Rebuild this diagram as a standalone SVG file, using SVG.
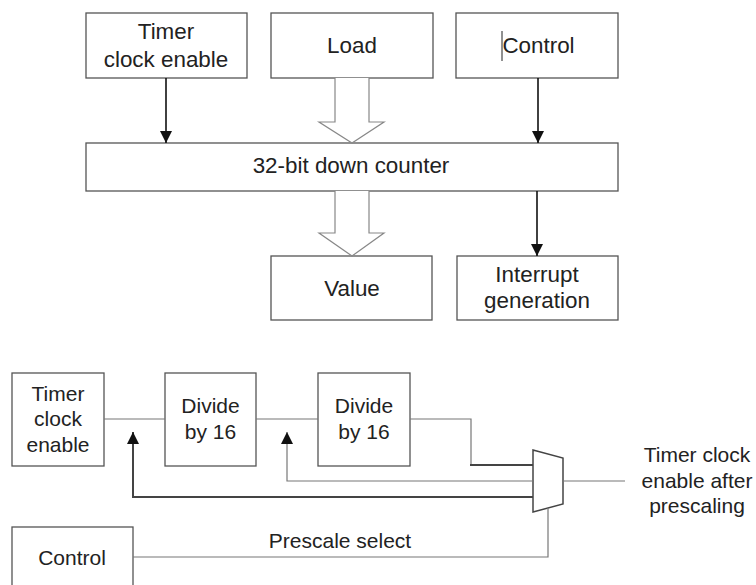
<svg xmlns="http://www.w3.org/2000/svg" width="756" height="585" viewBox="0 0 756 585">
<defs>
<style>
.box{fill:#fff;stroke:#555;stroke-width:1.3}
.t{font-family:"Liberation Sans",Arial,sans-serif;font-size:22.4px;fill:#222;text-anchor:middle}
.s{font-size:21px}
.ar{stroke:#111;stroke-width:1.6;fill:none}
.hol{fill:#fff;stroke:#888;stroke-width:1.2}
.thin{stroke:#777;stroke-width:1.2;fill:none}
.thick{stroke:#444;stroke-width:2;fill:none}
</style>
<marker id="ah" markerWidth="12" markerHeight="12" viewBox="0 0 12 12" refX="12" refY="6" orient="auto" markerUnits="userSpaceOnUse">
<path d="M0,0 L12,6 L0,12 Z" fill="#111"/>
</marker>
</defs>
<rect width="756" height="585" fill="#fff"/>

<g id="timer-top">
<rect class="box" x="86" y="13" width="161" height="65"/>
<text class="t" x="166" y="39">Timer</text>
<text class="t" x="166" y="67">clock enable</text>
</g>
<g id="load">
<rect class="box" x="271" y="13" width="162" height="65"/>
<text class="t" x="352" y="53">Load</text>
</g>
<g id="control-top">
<rect class="box" x="456" y="13" width="162" height="65"/>
<text class="t" x="538.5" y="53">Control</text>
<line x1="502" y1="31" x2="502" y2="61" stroke="#222" stroke-width="1"/>
</g>
<g id="counter">
<rect class="box" x="86" y="143" width="532" height="48"/>
<text class="t" x="351" y="173">32-bit down counter</text>
</g>
<g id="value">
<rect class="box" x="271" y="256" width="161" height="64"/>
<text class="t" x="352" y="296">Value</text>
</g>
<g id="interrupt">
<rect class="box" x="457" y="256" width="161" height="64"/>
<text class="t" x="537" y="282">Interrupt</text>
<text class="t" x="537" y="308">generation</text>
</g>

<g id="timer-bot">
<rect class="box" x="12" y="373" width="92" height="93"/>
<text class="t s" x="58" y="401">Timer</text>
<text class="t s" x="58" y="426">clock</text>
<text class="t s" x="58" y="452">enable</text>
</g>
<g id="div1">
<rect class="box" x="165" y="373" width="91" height="93"/>
<text class="t s" x="210.5" y="413">Divide</text>
<text class="t s" x="210.5" y="439">by 16</text>
</g>
<g id="div2">
<rect class="box" x="318" y="373" width="92" height="93"/>
<text class="t s" x="364" y="413">Divide</text>
<text class="t s" x="364" y="439">by 16</text>
</g>
<g id="mux">
<path d="M533,450 L563,458 L563,504 L533,512 Z" fill="#fff" stroke="#444" stroke-width="1.5"/>
</g>
<g id="control-bot">
<rect class="box" x="12" y="527" width="121" height="80"/>
<text class="t s" x="72" y="565">Control</text>
</g>
<g id="output-label">
<text class="t s" x="697" y="462">Timer clock</text>
<text class="t s" x="697" y="488">enable after</text>
<text class="t s" x="697" y="513">prescaling</text>
</g>

<g id="connectors">
<line class="ar" x1="166" y1="78" x2="166" y2="143" marker-end="url(#ah)"/>
<line class="ar" x1="538" y1="78" x2="538" y2="143" marker-end="url(#ah)"/>
<line class="ar" x1="537" y1="191" x2="537" y2="256" marker-end="url(#ah)"/>
<path class="hol" d="M335,78 L335,122 L319,122 L352,143 L384,122 L369,122 L369,78"/>
<path class="hol" d="M335,191 L335,233 L319,233 L352,256 L384,233 L369,233 L369,191"/>

<line class="thin" x1="104" y1="419" x2="165" y2="419"/>
<line class="thin" x1="256" y1="419" x2="318" y2="419"/>
<path class="thick" d="M533,497 L133,497 L133,432" marker-end="url(#ah)"/>
<path class="thin" d="M533,481 L287,481 L287,432" marker-end="url(#ah)"/>
<path class="thin" d="M410,419 L471,419 L471,465"/>
<line class="thick" x1="470" y1="465" x2="533" y2="465"/>
<line class="thin" x1="563" y1="481" x2="625" y2="481"/>
<path class="thin" d="M133,557 L548,557 L548,508"/>
<text class="t s" x="340" y="548">Prescale select</text>
</g>
</svg>
